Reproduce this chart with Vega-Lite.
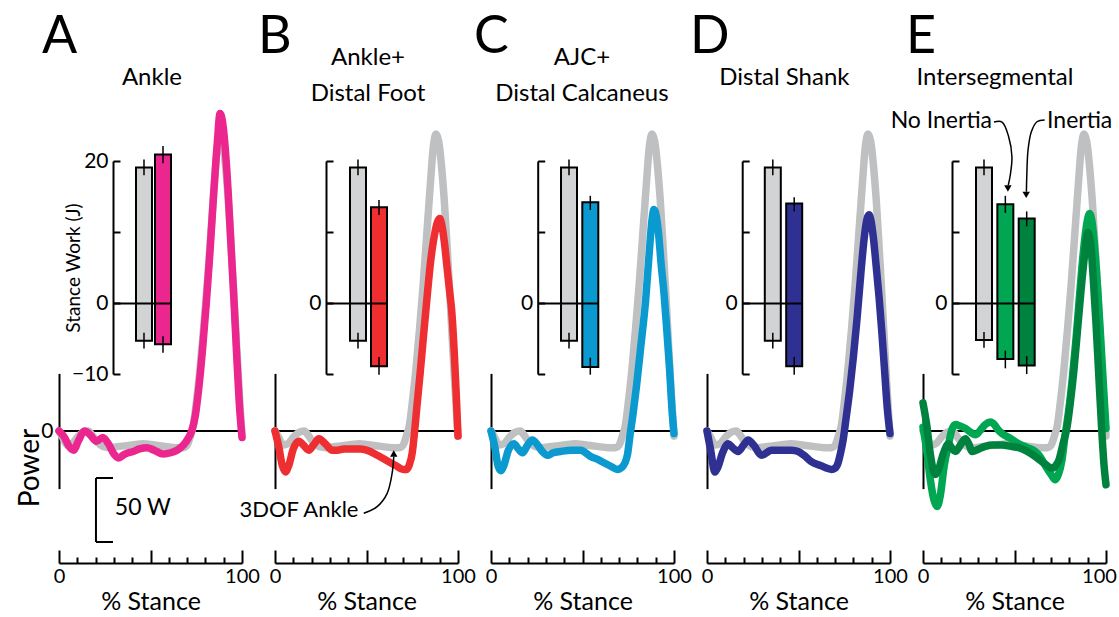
{
"$schema":"https://vega.github.io/schema/vega-lite/v6.json",
"padding":0,
"autosize":{"type":"pad"},
"background":"white",
"spacing":0,
"bounds":"flush",
"resolve":{"scale":{"fill":"independent"}},
"config":{
 "view":{"stroke":null},
 "font":"Lato",
 "text":{"font":"Lato","color":"black"},
 "axis":{"domainColor":"black","domainWidth":2,"tickColor":"black","tickWidth":2,"labelColor":"black","titleColor":"black","labelFont":"Lato","titleFont":"Lato","labelFontSize":21,"titleFontWeight":"normal","grid":false,"labelOverlap":false,"labelFlush":false}
},
"datasets":{
"curves":[
{"s":"ctrl","pct":0,"w":0},{"s":"ctrl","pct":2,"w":-5},{"s":"ctrl","pct":4.5,"w":-11},{"s":"ctrl","pct":7,"w":-10},{"s":"ctrl","pct":10,"w":-5},{"s":"ctrl","pct":13,"w":-1},{"s":"ctrl","pct":16,"w":0},{"s":"ctrl","pct":18,"w":-3},{"s":"ctrl","pct":21,"w":-9},{"s":"ctrl","pct":24,"w":-12},{"s":"ctrl","pct":28,"w":-13},{"s":"ctrl","pct":33,"w":-12},{"s":"ctrl","pct":40,"w":-11},{"s":"ctrl","pct":46,"w":-10},{"s":"ctrl","pct":52,"w":-11},{"s":"ctrl","pct":58,"w":-12},{"s":"ctrl","pct":64,"w":-13},{"s":"ctrl","pct":68,"w":-13},{"s":"ctrl","pct":70,"w":-11},{"s":"ctrl","pct":72,"w":-3},{"s":"ctrl","pct":73.5,"w":5},{"s":"ctrl","pct":75,"w":22},{"s":"ctrl","pct":77,"w":48},{"s":"ctrl","pct":79,"w":80},{"s":"ctrl","pct":81,"w":115},{"s":"ctrl","pct":83,"w":155},{"s":"ctrl","pct":85,"w":195},{"s":"ctrl","pct":86.5,"w":222},{"s":"ctrl","pct":88,"w":232},{"s":"ctrl","pct":89.5,"w":226},{"s":"ctrl","pct":91,"w":207},{"s":"ctrl","pct":92.5,"w":180},{"s":"ctrl","pct":94,"w":145},{"s":"ctrl","pct":95.5,"w":108},{"s":"ctrl","pct":97,"w":68},{"s":"ctrl","pct":98.5,"w":30},{"s":"ctrl","pct":100,"w":-4},
{"s":"A","pct":0,"w":0},{"s":"A","pct":3,"w":-5},{"s":"A","pct":5.5,"w":-12},{"s":"A","pct":8,"w":-15},{"s":"A","pct":10.5,"w":-8},{"s":"A","pct":14,"w":0},{"s":"A","pct":17,"w":-3},{"s":"A","pct":20.5,"w":-8},{"s":"A","pct":24,"w":-5},{"s":"A","pct":27,"w":-10},{"s":"A","pct":30,"w":-18},{"s":"A","pct":32.5,"w":-21},{"s":"A","pct":36,"w":-18},{"s":"A","pct":40.5,"w":-16},{"s":"A","pct":44,"w":-14},{"s":"A","pct":48,"w":-13},{"s":"A","pct":52,"w":-15},{"s":"A","pct":57,"w":-18},{"s":"A","pct":61,"w":-17},{"s":"A","pct":64.5,"w":-15},{"s":"A","pct":68,"w":-11},{"s":"A","pct":70.5,"w":-6},{"s":"A","pct":72.5,"w":0},{"s":"A","pct":74.5,"w":12},{"s":"A","pct":76.5,"w":35},{"s":"A","pct":78.5,"w":65},{"s":"A","pct":80.5,"w":100},{"s":"A","pct":82.5,"w":140},{"s":"A","pct":84.5,"w":185},{"s":"A","pct":86.5,"w":225},{"s":"A","pct":88,"w":248},{"s":"A","pct":89.5,"w":240},{"s":"A","pct":91,"w":218},{"s":"A","pct":92.5,"w":185},{"s":"A","pct":94,"w":145},{"s":"A","pct":95.5,"w":105},{"s":"A","pct":97,"w":62},{"s":"A","pct":98.5,"w":22},{"s":"A","pct":100,"w":-5},
{"s":"B","pct":0,"w":0},{"s":"B","pct":2,"w":-12},{"s":"B","pct":4,"w":-27},{"s":"B","pct":5.7,"w":-32},{"s":"B","pct":7.5,"w":-27},{"s":"B","pct":10,"w":-14},{"s":"B","pct":13,"w":-8},{"s":"B","pct":15.5,"w":-11},{"s":"B","pct":18.5,"w":-15},{"s":"B","pct":21,"w":-11},{"s":"B","pct":24,"w":-6},{"s":"B","pct":27.5,"w":-10},{"s":"B","pct":31.3,"w":-15},{"s":"B","pct":34,"w":-15},{"s":"B","pct":37.6,"w":-14},{"s":"B","pct":42,"w":-14},{"s":"B","pct":46.7,"w":-14},{"s":"B","pct":52,"w":-16},{"s":"B","pct":56,"w":-19},{"s":"B","pct":61,"w":-23},{"s":"B","pct":66,"w":-27},{"s":"B","pct":70,"w":-30},{"s":"B","pct":72,"w":-30},{"s":"B","pct":73.5,"w":-26},{"s":"B","pct":75,"w":-17},{"s":"B","pct":76.3,"w":0},{"s":"B","pct":77.6,"w":20},{"s":"B","pct":79.3,"w":45},{"s":"B","pct":81,"w":72},{"s":"B","pct":83,"w":103},{"s":"B","pct":85,"w":132},{"s":"B","pct":87,"w":152},{"s":"B","pct":89,"w":164},{"s":"B","pct":90,"w":166},{"s":"B","pct":91,"w":162},{"s":"B","pct":92.5,"w":148},{"s":"B","pct":94,"w":128},{"s":"B","pct":95.5,"w":108},{"s":"B","pct":96.5,"w":95},{"s":"B","pct":98,"w":60},{"s":"B","pct":99,"w":30},{"s":"B","pct":100,"w":-4},
{"s":"C","pct":0,"w":0},{"s":"C","pct":2,"w":-12},{"s":"C","pct":4,"w":-28},{"s":"C","pct":5.5,"w":-31},{"s":"C","pct":7,"w":-27},{"s":"C","pct":9.5,"w":-15},{"s":"C","pct":12.5,"w":-10},{"s":"C","pct":15,"w":-14},{"s":"C","pct":17.2,"w":-17},{"s":"C","pct":20,"w":-11},{"s":"C","pct":22.6,"w":-7},{"s":"C","pct":25.5,"w":-11},{"s":"C","pct":28,"w":-16},{"s":"C","pct":30.8,"w":-19},{"s":"C","pct":34,"w":-17},{"s":"C","pct":38,"w":-16},{"s":"C","pct":44,"w":-15},{"s":"C","pct":49,"w":-15},{"s":"C","pct":54.5,"w":-20},{"s":"C","pct":58,"w":-22},{"s":"C","pct":62,"w":-25},{"s":"C","pct":66,"w":-28},{"s":"C","pct":69,"w":-30},{"s":"C","pct":71.8,"w":-28},{"s":"C","pct":74.5,"w":-19},{"s":"C","pct":76,"w":-3},{"s":"C","pct":77.5,"w":12},{"s":"C","pct":79.5,"w":35},{"s":"C","pct":82,"w":68},{"s":"C","pct":84.5,"w":102},{"s":"C","pct":86.5,"w":140},{"s":"C","pct":88,"w":165},{"s":"C","pct":89,"w":173},{"s":"C","pct":90,"w":170},{"s":"C","pct":91.5,"w":155},{"s":"C","pct":93,"w":130},{"s":"C","pct":94.5,"w":108},{"s":"C","pct":96,"w":80},{"s":"C","pct":97.5,"w":50},{"s":"C","pct":99,"w":15},{"s":"C","pct":100,"w":-2},
{"s":"D","pct":0,"w":0},{"s":"D","pct":2,"w":-15},{"s":"D","pct":4.3,"w":-32},{"s":"D","pct":6,"w":-28},{"s":"D","pct":8.5,"w":-17},{"s":"D","pct":11.6,"w":-10},{"s":"D","pct":14,"w":-13},{"s":"D","pct":17,"w":-16},{"s":"D","pct":20,"w":-11},{"s":"D","pct":22.5,"w":-7},{"s":"D","pct":25.5,"w":-11},{"s":"D","pct":29.8,"w":-19},{"s":"D","pct":35.3,"w":-15},{"s":"D","pct":40,"w":-15},{"s":"D","pct":46.2,"w":-15},{"s":"D","pct":49.8,"w":-16},{"s":"D","pct":53,"w":-19},{"s":"D","pct":57,"w":-24},{"s":"D","pct":62,"w":-27},{"s":"D","pct":68,"w":-30},{"s":"D","pct":70,"w":-29},{"s":"D","pct":71.6,"w":-25},{"s":"D","pct":73,"w":-17},{"s":"D","pct":74.4,"w":-7},{"s":"D","pct":76,"w":10},{"s":"D","pct":78,"w":32},{"s":"D","pct":80,"w":58},{"s":"D","pct":82,"w":88},{"s":"D","pct":84,"w":122},{"s":"D","pct":86,"w":152},{"s":"D","pct":87.5,"w":166},{"s":"D","pct":88.5,"w":169},{"s":"D","pct":89.5,"w":165},{"s":"D","pct":91,"w":150},{"s":"D","pct":92.5,"w":128},{"s":"D","pct":94,"w":105},{"s":"D","pct":95.5,"w":78},{"s":"D","pct":97,"w":48},{"s":"D","pct":98.5,"w":18},{"s":"D","pct":100,"w":-2},
{"s":"E1","pct":0,"w":3},{"s":"E1","pct":2,"w":-15},{"s":"E1","pct":4,"w":-38},{"s":"E1","pct":6,"w":-54},{"s":"E1","pct":7.7,"w":-59},{"s":"E1","pct":9.5,"w":-50},{"s":"E1","pct":11.5,"w":-28},{"s":"E1","pct":14,"w":-10},{"s":"E1","pct":16,"w":2},{"s":"E1","pct":17.8,"w":5},{"s":"E1","pct":20,"w":4},{"s":"E1","pct":23.2,"w":2},{"s":"E1","pct":26,"w":-1},{"s":"E1","pct":28.7,"w":-3},{"s":"E1","pct":31,"w":0},{"s":"E1","pct":34,"w":5},{"s":"E1","pct":36.9,"w":7},{"s":"E1","pct":39,"w":5},{"s":"E1","pct":41,"w":1},{"s":"E1","pct":43.2,"w":-2},{"s":"E1","pct":48,"w":-6},{"s":"E1","pct":52.3,"w":-10},{"s":"E1","pct":57,"w":-13},{"s":"E1","pct":61.4,"w":-16},{"s":"E1","pct":64,"w":-20},{"s":"E1","pct":66.8,"w":-27},{"s":"E1","pct":70,"w":-34},{"s":"E1","pct":72.3,"w":-38},{"s":"E1","pct":74,"w":-34},{"s":"E1","pct":75.9,"w":-23},{"s":"E1","pct":77.5,"w":-5},{"s":"E1","pct":79.6,"w":16},{"s":"E1","pct":81.5,"w":40},{"s":"E1","pct":83.5,"w":70},{"s":"E1","pct":85.5,"w":105},{"s":"E1","pct":87.5,"w":138},{"s":"E1","pct":89.5,"w":162},{"s":"E1","pct":91,"w":170},{"s":"E1","pct":92.5,"w":162},{"s":"E1","pct":94,"w":140},{"s":"E1","pct":95.5,"w":110},{"s":"E1","pct":97,"w":75},{"s":"E1","pct":98.5,"w":38},{"s":"E1","pct":100,"w":2},
{"s":"E2","pct":0,"w":22},{"s":"E2","pct":2,"w":5},{"s":"E2","pct":4,"w":-18},{"s":"E2","pct":5.5,"w":-30},{"s":"E2","pct":6.8,"w":-34},{"s":"E2","pct":8.5,"w":-30},{"s":"E2","pct":11,"w":-18},{"s":"E2","pct":14,"w":-10},{"s":"E2","pct":16,"w":-14},{"s":"E2","pct":17.8,"w":-16},{"s":"E2","pct":20,"w":-12},{"s":"E2","pct":23.2,"w":-6},{"s":"E2","pct":25,"w":-10},{"s":"E2","pct":26.8,"w":-16},{"s":"E2","pct":29,"w":-15},{"s":"E2","pct":34,"w":-12},{"s":"E2","pct":38,"w":-11},{"s":"E2","pct":43.2,"w":-11},{"s":"E2","pct":48,"w":-12},{"s":"E2","pct":52.3,"w":-13},{"s":"E2","pct":57,"w":-16},{"s":"E2","pct":61.4,"w":-20},{"s":"E2","pct":66,"w":-25},{"s":"E2","pct":70.5,"w":-29},{"s":"E2","pct":72.5,"w":-27},{"s":"E2","pct":74.2,"w":-23},{"s":"E2","pct":76.5,"w":-10},{"s":"E2","pct":78.7,"w":3},{"s":"E2","pct":80.5,"w":22},{"s":"E2","pct":82.5,"w":48},{"s":"E2","pct":84.5,"w":80},{"s":"E2","pct":86.5,"w":112},{"s":"E2","pct":88.5,"w":140},{"s":"E2","pct":90,"w":155},{"s":"E2","pct":91.5,"w":148},{"s":"E2","pct":93,"w":120},{"s":"E2","pct":94.5,"w":85},{"s":"E2","pct":96,"w":45},{"s":"E2","pct":97.5,"w":5},{"s":"E2","pct":99,"w":-28},{"s":"E2","pct":100,"w":-42}
],
"work":[
{"p":"A","c":"ctrl","pos":19.1,"neg":-5.3,"pos_lo":18.0,"pos_hi":20.2,"neg_lo":-6.4,"neg_hi":-4.2},
{"p":"A","c":"m","pos":20.9,"neg":-5.8,"pos_lo":19.7,"pos_hi":22.1,"neg_lo":-7.0,"neg_hi":-4.7},
{"p":"B","c":"ctrl","pos":19.1,"neg":-5.3,"pos_lo":18.0,"pos_hi":20.2,"neg_lo":-6.4,"neg_hi":-4.2},
{"p":"B","c":"m","pos":13.5,"neg":-8.9,"pos_lo":12.4,"pos_hi":14.5,"neg_lo":-10.1,"neg_hi":-7.6},
{"p":"C","c":"ctrl","pos":19.1,"neg":-5.3,"pos_lo":18.0,"pos_hi":20.2,"neg_lo":-6.4,"neg_hi":-4.2},
{"p":"C","c":"m","pos":14.2,"neg":-9.0,"pos_lo":13.1,"pos_hi":15.1,"neg_lo":-10.1,"neg_hi":-7.7},
{"p":"D","c":"ctrl","pos":19.1,"neg":-5.3,"pos_lo":18.0,"pos_hi":20.2,"neg_lo":-6.4,"neg_hi":-4.2},
{"p":"D","c":"m","pos":14.0,"neg":-8.9,"pos_lo":12.9,"pos_hi":14.9,"neg_lo":-10.1,"neg_hi":-7.6},
{"p":"E","c":"ctrl","pos":19.1,"neg":-5.2,"pos_lo":18.0,"pos_hi":20.2,"neg_lo":-6.3,"neg_hi":-4.1},
{"p":"E","c":"m1","pos":13.9,"neg":-7.9,"pos_lo":12.7,"pos_hi":15.1,"neg_lo":-9.2,"neg_hi":-6.7},
{"p":"E","c":"m2","pos":11.9,"neg":-8.8,"pos_lo":10.8,"pos_hi":12.9,"neg_lo":-10.0,"neg_hi":-7.5}
],
"arrows":[
{"a":"3dof","i":0,"pct":48.5,"w":-64.3},{"a":"3dof","i":1,"pct":55.8,"w":-59.1},{"a":"3dof","i":2,"pct":61.3,"w":-48.7},{"a":"3dof","i":3,"pct":64,"w":-33},{"a":"3dof","i":4,"pct":64.9,"w":-20},
{"a":"noin","i":0,"pct":38.8,"w":241.4},{"a":"noin","i":1,"pct":43.2,"w":241.4},{"a":"noin","i":2,"pct":46.8,"w":229.9},{"a":"noin","i":3,"pct":48.6,"w":214.3},{"a":"noin","i":4,"pct":47.7,"w":200},{"a":"noin","i":5,"pct":46.6,"w":192},
{"a":"inert","i":0,"pct":66.5,"w":243},{"a":"inert","i":1,"pct":62.3,"w":241.6},{"a":"inert","i":2,"pct":59.2,"w":233.8},{"a":"inert","i":3,"pct":57.4,"w":219.5},{"a":"inert","i":4,"pct":56.7,"w":198.7},{"a":"inert","i":5,"pct":56.5,"w":187}
]
},
"hconcat":[
{
"width":215.5,"height":563,
"layer":[
 {"layer":[
  {"data":{"values":[{}]},"mark":{"type":"rule","strokeWidth":2,"color":"black"},
   "encoding":{
    "x":{"datum":0,"type":"quantitative","scale":{"domain":[0,100],"range":[59,242],"nice":false,"zero":false},"axis":{"orient":"bottom","values":[10,20,30,40,60,70,80,90],"tickSize":-6,"labels":false,"title":null}},
    "x2":{"datum":100},
    "y":{"datum":0,"type":"quantitative","scale":{"domain":[-45,45],"range":[488.6,373.4],"nice":false,"zero":false},"axis":{"orient":"left","offset":-59,"values":[0],"ticks":false,"labelPadding":6,"title":null}}}},
  {"data":{"name":"curves"},"transform":[{"filter":"datum.s=='ctrl'"}],"mark":{"type":"line","interpolate":"monotone","strokeWidth":7.5,"strokeCap":"round","strokeJoin":"round","color":"#BFC0C2"},
   "encoding":{"x":{"field":"pct","type":"quantitative","axis":{"orient":"bottom","values":[0,50,100],"tickSize":-13,"domain":false,"labelExpr":"datum.value==50?'':datum.label","labelPadding":16,"labelFontSize":20,"title":"% Stance","titleFontSize":25,"titlePadding":3}},"y":{"field":"w","type":"quantitative","axis":null}}},
  {"data":{"name":"curves"},"transform":[{"filter":"datum.s=='A'"}],"mark":{"type":"line","interpolate":"monotone","strokeWidth":7.5,"strokeCap":"round","strokeJoin":"round","color":"#EC268F"},
   "encoding":{"x":{"field":"pct","type":"quantitative","axis":null},"y":{"field":"w","type":"quantitative","axis":null}}},
  {"data":{"values":[{}]},"mark":{"type":"text","text":"A","fontSize":52,"align":"left","baseline":"alphabetic"},"encoding":{"x":{"datum":-9.3,"axis":null},"y":{"datum":295.3,"axis":null}}},
  {"data":{"values":[{}]},"mark":{"type":"text","text":"Ankle","fontSize":24,"align":"center","baseline":"alphabetic"},"encoding":{"x":{"datum":50.8,"axis":null},"y":{"datum":270.3,"axis":null}}},
  {"data":{"values":[{}]},"mark":{"type":"text","text":"Power","fontSize":28,"angle":270,"align":"center","baseline":"middle"},"encoding":{"x":{"datum":-15.3,"axis":null},"y":{"datum":-29,"axis":null}}},
  {"data":{"values":[{}]},"mark":{"type":"rule","strokeWidth":2,"color":"black"},"encoding":{"x":{"datum":20.2,"axis":null},"y":{"datum":-36.7,"axis":null},"y2":{"datum":-86.7}}},
  {"data":{"values":[{}]},"mark":{"type":"rule","strokeWidth":2,"color":"black"},"encoding":{"x":{"datum":20.2,"axis":null},"x2":{"datum":29.5},"y":{"datum":-36.7,"axis":null}}},
  {"data":{"values":[{}]},"mark":{"type":"rule","strokeWidth":2,"color":"black"},"encoding":{"x":{"datum":20.2,"axis":null},"x2":{"datum":29.5},"y":{"datum":-86.7,"axis":null}}},
  {"data":{"values":[{}]},"mark":{"type":"text","text":"50 W","fontSize":23,"align":"left","baseline":"middle"},"encoding":{"x":{"datum":30.5,"axis":null},"y":{"datum":-60.5,"axis":null}}}
 ],"resolve":{"axis":{"x":"independent","y":"independent"}}},
 {"data":{"name":"work"},"transform":[{"filter":"datum.p=='A'"}],
  "layer":[
   {"mark":{"type":"bar","stroke":"black","strokeWidth":2},
    "encoding":{
     "x":{"field":"c","type":"nominal","sort":null,"scale":{"type":"band","domain":["ctrl","m"],"range":[113,171],"paddingInner":0.158,"paddingOuter":0.605,"align":1},"axis":null},
     "y":{"field":"neg","type":"quantitative","scale":{"domain":[-10,20],"range":[374,161],"nice":false,"zero":false},"axis":{"orient":"left","offset":-113,"values":[-10,0,10,20],"tickSize":-7,"grid":true,"gridColor":"black","gridWidth":2,"gridOpacity":{"condition":{"test":"datum.value===0","value":1},"value":0},"zindex":1,"labelExpr":"datum.value==10?'':datum.label","labelPadding":12,"title":"Stance Work (J)","titleFontSize":19,"titleX":-30,"titleY":267.5}},
     "y2":{"field":"pos"},
     "fill":{"field":"c","type":"nominal","scale":{"domain":["ctrl","m"],"range":["#D1D3D4","#EC268F"]},"legend":null}}},
   {"mark":{"type":"rule","strokeWidth":1.5,"color":"black"},"encoding":{"x":{"field":"c","type":"nominal","sort":null,"axis":null},"y":{"field":"pos_lo","type":"quantitative","axis":null},"y2":{"field":"pos_hi"}}},
   {"mark":{"type":"rule","strokeWidth":1.5,"color":"black"},"encoding":{"x":{"field":"c","type":"nominal","sort":null,"axis":null},"y":{"field":"neg_lo","type":"quantitative","axis":null},"y2":{"field":"neg_hi"}}}
  ],"resolve":{"axis":{"y":"independent"}}}
],
"resolve":{"scale":{"x":"independent","y":"independent"}}
},
{
"width":215.5,"height":563,
"layer":[
 {"layer":[
  {"data":{"values":[{}]},"mark":{"type":"rule","strokeWidth":2,"color":"black"},
   "encoding":{
    "x":{"datum":0,"type":"quantitative","scale":{"domain":[0,100],"range":[59,242],"nice":false,"zero":false},"axis":{"orient":"bottom","values":[10,20,30,40,60,70,80,90],"tickSize":-6,"labels":false,"title":null}},
    "x2":{"datum":100},
    "y":{"datum":0,"type":"quantitative","scale":{"domain":[-45,45],"range":[488.6,373.4],"nice":false,"zero":false},"axis":{"orient":"left","offset":-59,"values":[0],"ticks":false,"labels":false,"title":null}}}},
  {"data":{"name":"curves"},"transform":[{"filter":"datum.s=='ctrl'"}],"mark":{"type":"line","interpolate":"monotone","strokeWidth":7.5,"strokeCap":"round","strokeJoin":"round","color":"#BFC0C2"},
   "encoding":{"x":{"field":"pct","type":"quantitative","axis":{"orient":"bottom","values":[0,50,100],"tickSize":-13,"domain":false,"labelExpr":"datum.value==50?'':datum.label","labelPadding":16,"labelFontSize":20,"title":"% Stance","titleFontSize":25,"titlePadding":3}},"y":{"field":"w","type":"quantitative","axis":null}}},
  {"data":{"name":"curves"},"transform":[{"filter":"datum.s=='B'"}],"mark":{"type":"line","interpolate":"monotone","strokeWidth":7.5,"strokeCap":"round","strokeJoin":"round","color":"#EE2E31"},
   "encoding":{"x":{"field":"pct","type":"quantitative","axis":null},"y":{"field":"w","type":"quantitative","axis":null}}},
  {"data":{"values":[{}]},"mark":{"type":"text","text":"B","fontSize":52,"align":"left","baseline":"alphabetic"},"encoding":{"x":{"datum":-9.3,"axis":null},"y":{"datum":295.3,"axis":null}}},
  {"data":{"values":[{}]},"mark":{"type":"text","text":["Ankle+","Distal Foot"],"lineHeight":36,"fontSize":24,"align":"center","baseline":"alphabetic"},"encoding":{"x":{"datum":50.8,"axis":null},"y":{"datum":285.9,"axis":null}}},
  {"data":{"values":[{}]},"mark":{"type":"text","text":"3DOF Ankle","fontSize":22,"align":"right","baseline":"middle"},"encoding":{"x":{"datum":45.6,"axis":null},"y":{"datum":-61.7,"axis":null}}},
  {"data":{"name":"arrows"},"transform":[{"filter":"datum.a=='3dof'"}],"mark":{"type":"line","interpolate":"catmull-rom","strokeWidth":1.5,"color":"black"},"encoding":{"x":{"field":"pct","type":"quantitative","axis":null},"y":{"field":"w","type":"quantitative","axis":null},"order":{"field":"i"}}},
  {"data":{"values":[{}]},"mark":{"type":"point","shape":"triangle-up","filled":true,"color":"black","size":55,"opacity":1},"encoding":{"x":{"datum":64.9,"axis":null},"y":{"datum":-17.6,"axis":null}}}
 ],"resolve":{"axis":{"x":"independent","y":"independent"}}},
 {"data":{"name":"work"},"transform":[{"filter":"datum.p=='B'"}],
  "layer":[
   {"mark":{"type":"bar","stroke":"black","strokeWidth":2},
    "encoding":{
     "x":{"field":"c","type":"nominal","sort":null,"scale":{"type":"band","domain":["ctrl","m"],"range":[110,171],"paddingInner":0.238,"paddingOuter":0.571,"align":1},"axis":null},
     "y":{"field":"neg","type":"quantitative","scale":{"domain":[-10,20],"range":[374,161],"nice":false,"zero":false},"axis":{"orient":"left","offset":-110,"values":[-10,0,10,20],"tickSize":-7,"grid":true,"gridColor":"black","gridWidth":2,"gridOpacity":{"condition":{"test":"datum.value===0","value":1},"value":0},"zindex":1,"labelExpr":"datum.value==0?'0':''","labelPadding":12,"title":null}},
     "y2":{"field":"pos"},
     "fill":{"field":"c","type":"nominal","scale":{"domain":["ctrl","m"],"range":["#D1D3D4","#EE2E31"]},"legend":null}}},
   {"mark":{"type":"rule","strokeWidth":1.5,"color":"black"},"encoding":{"x":{"field":"c","type":"nominal","sort":null,"axis":null},"y":{"field":"pos_lo","type":"quantitative","axis":null},"y2":{"field":"pos_hi"}}},
   {"mark":{"type":"rule","strokeWidth":1.5,"color":"black"},"encoding":{"x":{"field":"c","type":"nominal","sort":null,"axis":null},"y":{"field":"neg_lo","type":"quantitative","axis":null},"y2":{"field":"neg_hi"}}}
  ],"resolve":{"axis":{"y":"independent"}}}
],
"resolve":{"scale":{"x":"independent","y":"independent"}}
},
{
"width":215.5,"height":563,
"layer":[
 {"layer":[
  {"data":{"values":[{}]},"mark":{"type":"rule","strokeWidth":2,"color":"black"},
   "encoding":{
    "x":{"datum":0,"type":"quantitative","scale":{"domain":[0,100],"range":[59,242],"nice":false,"zero":false},"axis":{"orient":"bottom","values":[10,20,30,40,60,70,80,90],"tickSize":-6,"labels":false,"title":null}},
    "x2":{"datum":100},
    "y":{"datum":0,"type":"quantitative","scale":{"domain":[-45,45],"range":[488.6,373.4],"nice":false,"zero":false},"axis":{"orient":"left","offset":-59,"values":[0],"ticks":false,"labels":false,"title":null}}}},
  {"data":{"name":"curves"},"transform":[{"filter":"datum.s=='ctrl'"}],"mark":{"type":"line","interpolate":"monotone","strokeWidth":7.5,"strokeCap":"round","strokeJoin":"round","color":"#BFC0C2"},
   "encoding":{"x":{"field":"pct","type":"quantitative","axis":{"orient":"bottom","values":[0,50,100],"tickSize":-13,"domain":false,"labelExpr":"datum.value==50?'':datum.label","labelPadding":16,"labelFontSize":20,"title":"% Stance","titleFontSize":25,"titlePadding":3}},"y":{"field":"w","type":"quantitative","axis":null}}},
  {"data":{"name":"curves"},"transform":[{"filter":"datum.s=='C'"}],"mark":{"type":"line","interpolate":"monotone","strokeWidth":7.5,"strokeCap":"round","strokeJoin":"round","color":"#0A9AD0"},
   "encoding":{"x":{"field":"pct","type":"quantitative","axis":null},"y":{"field":"w","type":"quantitative","axis":null}}},
  {"data":{"values":[{}]},"mark":{"type":"text","text":"C","fontSize":52,"align":"left","baseline":"alphabetic"},"encoding":{"x":{"datum":-9.3,"axis":null},"y":{"datum":295.3,"axis":null}}},
  {"data":{"values":[{}]},"mark":{"type":"text","text":["AJC+","Distal Calcaneus"],"lineHeight":36,"fontSize":24,"align":"center","baseline":"alphabetic"},"encoding":{"x":{"datum":49.7,"axis":null},"y":{"datum":285.9,"axis":null}}}
 ],"resolve":{"axis":{"x":"independent","y":"independent"}}},
 {"data":{"name":"work"},"transform":[{"filter":"datum.p=='C'"}],
  "layer":[
   {"mark":{"type":"bar","stroke":"black","strokeWidth":2},
    "encoding":{
     "x":{"field":"c","type":"nominal","sort":null,"scale":{"type":"band","domain":["ctrl","m"],"range":[105.7,166.3],"paddingInner":0.249,"paddingOuter":0.547,"align":1},"axis":null},
     "y":{"field":"neg","type":"quantitative","scale":{"domain":[-10,20],"range":[374,161],"nice":false,"zero":false},"axis":{"orient":"left","offset":-105.7,"values":[-10,0,10,20],"tickSize":-7,"grid":true,"gridColor":"black","gridWidth":2,"gridOpacity":{"condition":{"test":"datum.value===0","value":1},"value":0},"zindex":1,"labelExpr":"datum.value==0?'0':''","labelPadding":12,"title":null}},
     "y2":{"field":"pos"},
     "fill":{"field":"c","type":"nominal","scale":{"domain":["ctrl","m"],"range":["#D1D3D4","#0A9AD0"]},"legend":null}}},
   {"mark":{"type":"rule","strokeWidth":1.5,"color":"black"},"encoding":{"x":{"field":"c","type":"nominal","sort":null,"axis":null},"y":{"field":"pos_lo","type":"quantitative","axis":null},"y2":{"field":"pos_hi"}}},
   {"mark":{"type":"rule","strokeWidth":1.5,"color":"black"},"encoding":{"x":{"field":"c","type":"nominal","sort":null,"axis":null},"y":{"field":"neg_lo","type":"quantitative","axis":null},"y2":{"field":"neg_hi"}}}
  ],"resolve":{"axis":{"y":"independent"}}}
],
"resolve":{"scale":{"x":"independent","y":"independent"}}
},
{
"width":215.5,"height":563,
"layer":[
 {"layer":[
  {"data":{"values":[{}]},"mark":{"type":"rule","strokeWidth":2,"color":"black"},
   "encoding":{
    "x":{"datum":0,"type":"quantitative","scale":{"domain":[0,100],"range":[59,242],"nice":false,"zero":false},"axis":{"orient":"bottom","values":[10,20,30,40,60,70,80,90],"tickSize":-6,"labels":false,"title":null}},
    "x2":{"datum":100},
    "y":{"datum":0,"type":"quantitative","scale":{"domain":[-45,45],"range":[488.6,373.4],"nice":false,"zero":false},"axis":{"orient":"left","offset":-59,"values":[0],"ticks":false,"labels":false,"title":null}}}},
  {"data":{"name":"curves"},"transform":[{"filter":"datum.s=='ctrl'"}],"mark":{"type":"line","interpolate":"monotone","strokeWidth":7.5,"strokeCap":"round","strokeJoin":"round","color":"#BFC0C2"},
   "encoding":{"x":{"field":"pct","type":"quantitative","axis":{"orient":"bottom","values":[0,50,100],"tickSize":-13,"domain":false,"labelExpr":"datum.value==50?'':datum.label","labelPadding":16,"labelFontSize":20,"title":"% Stance","titleFontSize":25,"titlePadding":3}},"y":{"field":"w","type":"quantitative","axis":null}}},
  {"data":{"name":"curves"},"transform":[{"filter":"datum.s=='D'"}],"mark":{"type":"line","interpolate":"monotone","strokeWidth":7.5,"strokeCap":"round","strokeJoin":"round","color":"#2E3192"},
   "encoding":{"x":{"field":"pct","type":"quantitative","axis":null},"y":{"field":"w","type":"quantitative","axis":null}}},
  {"data":{"values":[{}]},"mark":{"type":"text","text":"D","fontSize":52,"align":"left","baseline":"alphabetic"},"encoding":{"x":{"datum":-9.3,"axis":null},"y":{"datum":295.3,"axis":null}}},
  {"data":{"values":[{}]},"mark":{"type":"text","text":"Distal Shank","fontSize":24,"align":"center","baseline":"alphabetic"},"encoding":{"x":{"datum":42.3,"axis":null},"y":{"datum":270.3,"axis":null}}}
 ],"resolve":{"axis":{"x":"independent","y":"independent"}}},
 {"data":{"name":"work"},"transform":[{"filter":"datum.p=='D'"}],
  "layer":[
   {"mark":{"type":"bar","stroke":"black","strokeWidth":2},
    "encoding":{
     "x":{"field":"c","type":"nominal","sort":null,"scale":{"type":"band","domain":["ctrl","m"],"range":[94.2,154.2],"paddingInner":0.252,"paddingOuter":0.528,"align":1},"axis":null},
     "y":{"field":"neg","type":"quantitative","scale":{"domain":[-10,20],"range":[374,161],"nice":false,"zero":false},"axis":{"orient":"left","offset":-94.2,"values":[-10,0,10,20],"tickSize":-7,"grid":true,"gridColor":"black","gridWidth":2,"gridOpacity":{"condition":{"test":"datum.value===0","value":1},"value":0},"zindex":1,"labelExpr":"datum.value==0?'0':''","labelPadding":12,"title":null}},
     "y2":{"field":"pos"},
     "fill":{"field":"c","type":"nominal","scale":{"domain":["ctrl","m"],"range":["#D1D3D4","#2E3192"]},"legend":null}}},
   {"mark":{"type":"rule","strokeWidth":1.5,"color":"black"},"encoding":{"x":{"field":"c","type":"nominal","sort":null,"axis":null},"y":{"field":"pos_lo","type":"quantitative","axis":null},"y2":{"field":"pos_hi"}}},
   {"mark":{"type":"rule","strokeWidth":1.5,"color":"black"},"encoding":{"x":{"field":"c","type":"nominal","sort":null,"axis":null},"y":{"field":"neg_lo","type":"quantitative","axis":null},"y2":{"field":"neg_hi"}}}
  ],"resolve":{"axis":{"y":"independent"}}}
],
"resolve":{"scale":{"x":"independent","y":"independent"}}
},
{
"width":257,"height":563,
"layer":[
 {"layer":[
  {"data":{"values":[{}]},"mark":{"type":"rule","strokeWidth":2,"color":"black"},
   "encoding":{
    "x":{"datum":0,"type":"quantitative","scale":{"domain":[0,100],"range":[59,242],"nice":false,"zero":false},"axis":{"orient":"bottom","values":[10,20,30,40,60,70,80,90],"tickSize":-6,"labels":false,"title":null}},
    "x2":{"datum":100},
    "y":{"datum":0,"type":"quantitative","scale":{"domain":[-45,45],"range":[488.6,373.4],"nice":false,"zero":false},"axis":{"orient":"left","offset":-59,"values":[0],"ticks":false,"labels":false,"title":null}}}},
  {"data":{"name":"curves"},"transform":[{"filter":"datum.s=='ctrl'"}],"mark":{"type":"line","interpolate":"monotone","strokeWidth":7.5,"strokeCap":"round","strokeJoin":"round","color":"#BFC0C2"},
   "encoding":{"x":{"field":"pct","type":"quantitative","axis":{"orient":"bottom","values":[0,50,100],"tickSize":-13,"domain":false,"labelExpr":"datum.value==50?'':datum.label","labelPadding":16,"labelFontSize":20,"labelOffset":{"condition":{"test":"datum.value==100","value":-7},"value":0},"title":"% Stance","titleFontSize":25,"titlePadding":3}},"y":{"field":"w","type":"quantitative","axis":null}}},
  {"data":{"name":"curves"},"transform":[{"filter":"datum.s=='E1'"}],"mark":{"type":"line","interpolate":"monotone","strokeWidth":7.5,"strokeCap":"round","strokeJoin":"round","color":"#00A651"},
   "encoding":{"x":{"field":"pct","type":"quantitative","axis":null},"y":{"field":"w","type":"quantitative","axis":null}}},
  {"data":{"name":"curves"},"transform":[{"filter":"datum.s=='E2'"}],"mark":{"type":"line","interpolate":"monotone","strokeWidth":7.5,"strokeCap":"round","strokeJoin":"round","color":"#00823F"},
   "encoding":{"x":{"field":"pct","type":"quantitative","axis":null},"y":{"field":"w","type":"quantitative","axis":null}}},
  {"data":{"values":[{}]},"mark":{"type":"text","text":"E","fontSize":52,"align":"left","baseline":"alphabetic"},"encoding":{"x":{"datum":-9.3,"axis":null},"y":{"datum":295.3,"axis":null}}},
  {"data":{"values":[{}]},"mark":{"type":"text","text":"Intersegmental","fontSize":24,"align":"center","baseline":"alphabetic"},"encoding":{"x":{"datum":39.3,"axis":null},"y":{"datum":270.3,"axis":null}}},
  {"data":{"values":[{}]},"mark":{"type":"text","text":"No Inertia","fontSize":23,"align":"right","baseline":"middle"},"encoding":{"x":{"datum":37.7,"axis":null},"y":{"datum":242.2,"axis":null}}},
  {"data":{"values":[{}]},"mark":{"type":"text","text":"Inertia","fontSize":23,"align":"left","baseline":"middle"},"encoding":{"x":{"datum":67.8,"axis":null},"y":{"datum":242.2,"axis":null}}},
  {"data":{"name":"arrows"},"transform":[{"filter":"datum.a!='3dof'"}],"mark":{"type":"line","interpolate":"catmull-rom","strokeWidth":1.5,"color":"black"},"encoding":{"x":{"field":"pct","type":"quantitative","axis":null},"y":{"field":"w","type":"quantitative","axis":null},"detail":{"field":"a"},"order":{"field":"i"}}},
  {"data":{"values":[{}]},"mark":{"type":"point","shape":"triangle-down","filled":true,"color":"black","size":55,"opacity":1},"encoding":{"x":{"datum":46.4,"axis":null},"y":{"datum":189.5,"axis":null}}},
  {"data":{"values":[{}]},"mark":{"type":"point","shape":"triangle-down","filled":true,"color":"black","size":55,"opacity":1},"encoding":{"x":{"datum":56.4,"axis":null},"y":{"datum":184.5,"axis":null}}}
 ],"resolve":{"axis":{"x":"independent","y":"independent"}}},
 {"data":{"name":"work"},"transform":[{"filter":"datum.p=='E'"}],
  "layer":[
   {"mark":{"type":"bar","stroke":"black","strokeWidth":2},
    "encoding":{
     "x":{"field":"c","type":"nominal","sort":null,"scale":{"type":"band","domain":["ctrl","m1","m2"],"range":[88,170.7],"paddingInner":0.2506,"paddingOuter":0.562,"align":1},"axis":null},
     "y":{"field":"neg","type":"quantitative","scale":{"domain":[-10,20],"range":[374,161],"nice":false,"zero":false},"axis":{"orient":"left","offset":-88,"values":[-10,0,10,20],"tickSize":-7,"grid":true,"gridColor":"black","gridWidth":2,"gridOpacity":{"condition":{"test":"datum.value===0","value":1},"value":0},"zindex":1,"labelExpr":"datum.value==0?'0':''","labelPadding":12,"title":null}},
     "y2":{"field":"pos"},
     "fill":{"field":"c","type":"nominal","scale":{"domain":["ctrl","m1","m2"],"range":["#D1D3D4","#00A651","#00823F"]},"legend":null}}},
   {"mark":{"type":"rule","strokeWidth":1.5,"color":"black"},"encoding":{"x":{"field":"c","type":"nominal","sort":null,"axis":null},"y":{"field":"pos_lo","type":"quantitative","axis":null},"y2":{"field":"pos_hi"}}},
   {"mark":{"type":"rule","strokeWidth":1.5,"color":"black"},"encoding":{"x":{"field":"c","type":"nominal","sort":null,"axis":null},"y":{"field":"neg_lo","type":"quantitative","axis":null},"y2":{"field":"neg_hi"}}}
  ],"resolve":{"axis":{"y":"independent"}}}
],
"resolve":{"scale":{"x":"independent","y":"independent"}}
}
]
}
